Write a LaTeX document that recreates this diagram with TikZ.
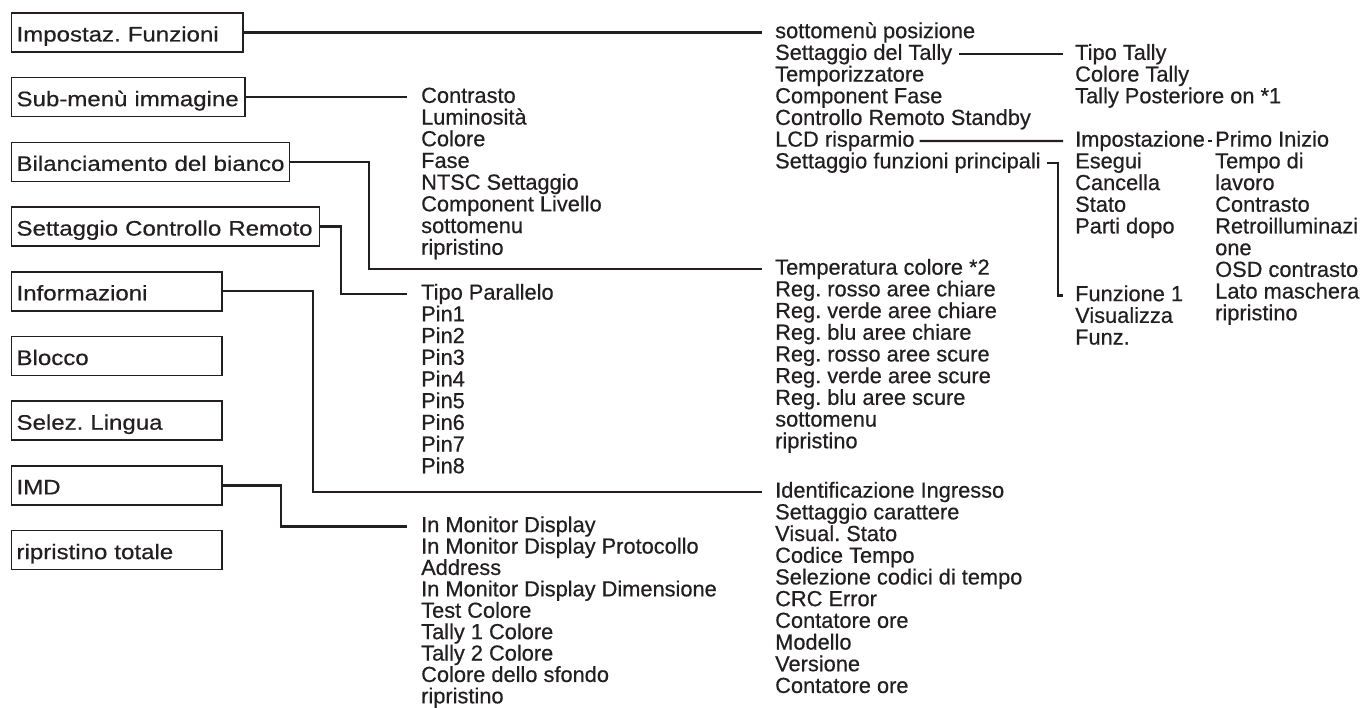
\documentclass[tikz,border=0pt]{standalone}
\usepackage{fontspec}
\usepackage{xcolor}
\usetikzlibrary{calc}
\newfontfamily\boxface[FakeStretch=1.145,FakeBold=0.5]{Liberation Sans}
\newfontfamily\listface[FakeBold=0.5]{Liberation Sans}
\definecolor{menuink}{RGB}{35,31,32}
\frenchspacing

\begin{document}
\begin{tikzpicture}[x=1pt,y=-1pt,
    mbox/.style={draw=menuink,line width=1.6pt,anchor=west,
                 minimum height=39pt,inner xsep=5pt,inner ysep=0pt,
                 text width=#1,align=left,text height=20pt,text depth=2pt,
                 font=\boxface\fontsize{21}{24}\selectfont,text=menuink},
    item/.style={anchor=west,inner sep=0pt,text=menuink,
                 text height=15.6pt,text depth=4.3pt,
                 font=\listface\fontsize{21.8}{22}\selectfont},
    wire/.style={draw=menuink,line width=2.2pt},
  ]
    \useasboundingbox (0,0) rectangle (1362,708);
    % main menu
    \node[mbox=221.5pt](b1) at (10.75,32.5){Impostaz. Funzioni};
    \node[mbox=223.5pt](b2) at (10.75,97.2){Sub-menù immagine};
    \node[mbox=268pt](b3) at (10.75,161.9){Bilanciamento del bianco};
    \node[mbox=298pt](b4) at (10.75,226.6){Settaggio Controllo Remoto};
    \node[mbox=200.5pt](b5) at (10.75,291.3){Informazioni};
    \node[mbox=200.5pt](b6) at (10.75,356){Blocco};
    \node[mbox=200.5pt](b7) at (10.75,420.7){Selez. Lingua};
    \node[mbox=200.5pt](b8) at (10.75,485.4){IMD};
    \node[mbox=200.5pt](b9) at (10.75,550.1){ripristino totale};
    % sub menus
    \foreach \txt [count=\n] in {sottomenù posizione,Settaggio del Tally,
        Temporizzatore,Component Fase,Controllo Remoto Standby,
        LCD risparmio,Settaggio funzioni principali}
      \node[item](fn-\n) at (775,{32.5+21.7*(\n-1)}){\txt};
    \foreach \txt [count=\n] in {Tipo Tally,Colore Tally,Tally Posteriore on *1}
      \node[item](tly-\n) at (1075,{54.2+21.7*(\n-1)}){\txt};
    \foreach \txt [count=\n] in {Impostazione,Esegui,Cancella,Stato,Parti dopo}
      \node[item](imp-\n) at (1075,{141+21.7*(\n-1)}){\txt};
    \foreach \txt [count=\n] in {Primo Inizio,Tempo di,lavoro,Contrasto,
        Retroilluminazi,one,OSD contrasto,Lato maschera,ripristino}
      \node[item](pri-\n) at (1215,{141+21.7*(\n-1)}){\txt};
    \foreach \txt [count=\n] in {Funzione 1,Visualizza,Funz.}
      \node[item](fz-\n) at (1075,{295.5+21.7*(\n-1)}){\txt};
    \foreach \txt [count=\n] in {Contrasto,Luminosità,Colore,Fase,
        NTSC Settaggio,Component Livello,sottomenu,ripristino}
      \node[item](img-\n) at (421,{97.2+21.7*(\n-1)}){\txt};
    \foreach \txt [count=\n] in {Temperatura colore *2,Reg. rosso aree chiare,
        Reg. verde aree chiare,Reg. blu aree chiare,Reg. rosso aree scure,
        Reg. verde aree scure,Reg. blu aree scure,sottomenu,ripristino}
      \node[item](wb-\n) at (775,{269+21.7*(\n-1)}){\txt};
    \foreach \txt [count=\n] in {Tipo Parallelo,Pin1,Pin2,Pin3,Pin4,Pin5,
        Pin6,Pin7,Pin8}
      \node[item](pin-\n) at (421,{294+21.7*(\n-1)}){\txt};
    \foreach \txt [count=\n] in {Identificazione Ingresso,Settaggio carattere,
        Visual. Stato,Codice Tempo,Selezione codici di tempo,CRC Error,
        Contatore ore,Modello,Versione,Contatore ore}
      \node[item](inf-\n) at (775,{492+21.7*(\n-1)}){\txt};
    \foreach \txt [count=\n] in {In Monitor Display,
        In Monitor Display Protocollo,Address,
        In Monitor Display Dimensione,Test Colore,Tally 1 Colore,
        Tally 2 Colore,Colore dello sfondo,ripristino}
      \node[item](imd-\n) at (421,{526.5+21.4*(\n-1)}){\txt};
    % connectors
    \draw[wire](b1.east)--([xshift=-13pt]fn-1.west);
    \draw[wire](b2.east)--([xshift=-14pt]img-1.west);
    \draw[wire](b3.east)--++(79,0)|-([xshift=-13pt]wb-1.west);
    \draw[wire](b4.east)--++(21,0)|-([xshift=-14pt]pin-1.west);
    \draw[wire](b5.east)--++(90,0)|-([xshift=-13pt]inf-1.west);
    \draw[wire](b8.east)--++(58,0)|-([xshift=-14pt]imd-1.west);
    \draw[wire]([xshift=7pt]fn-2.east)--([xshift=-12pt]tly-1.west);
    \draw[wire]([xshift=5pt]fn-6.east)--([xshift=-12pt]imp-1.west);
    \draw[wire]([xshift=3pt]imp-1.east)--([xshift=-3pt]pri-1.west);
    \draw[wire]([xshift=6pt]fn-7.east)--++(11,0)
      |-([xshift=-12pt]fz-1.west);
\end{tikzpicture}
\end{document}
